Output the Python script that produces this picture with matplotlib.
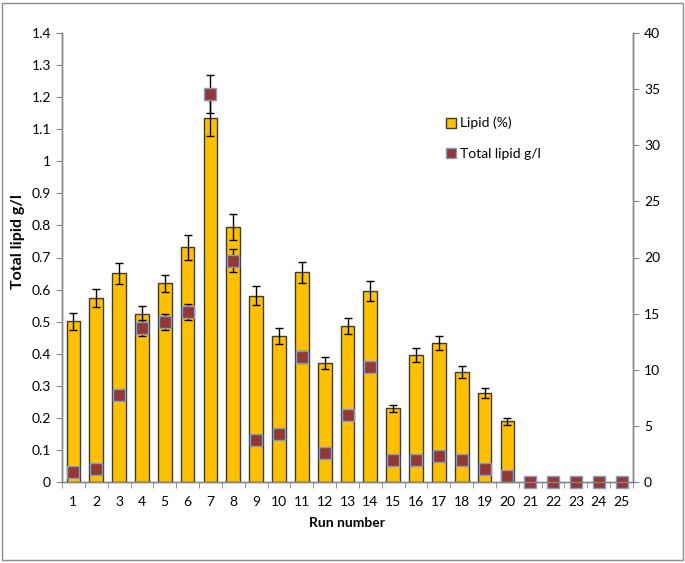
import matplotlib
matplotlib.use("Agg")
import matplotlib.pyplot as plt
from matplotlib.lines import Line2D
from matplotlib.patches import Rectangle
from matplotlib.ticker import FuncFormatter
import numpy as np

runs = list(range(1, 26))
lipid_pct = [14.3, 16.4, 18.6, 15.0, 17.7, 20.9, 32.4, 22.7, 16.6, 13.0,
             18.7, 10.6, 13.9, 17.0, 6.55, 11.35, 12.4, 9.8, 7.9, 5.4,
             0, 0, 0, 0, 0]
lipid_err = [0.74, 0.8, 0.94, 0.71, 0.77, 1.08, 1.6, 1.14, 0.83, 0.69,
             0.94, 0.57, 0.68, 0.87, 0.33, 0.63, 0.63, 0.5, 0.45, 0.3,
             0, 0, 0, 0, 0]
total_lipid = [0.03, 0.04, 0.27, 0.48, 0.50, 0.53, 1.21, 0.69, 0.13, 0.15,
               0.39, 0.09, 0.21, 0.36, 0.07, 0.07, 0.08, 0.07, 0.04, 0.02,
               0, 0, 0, 0, 0]
total_err = [0, 0, 0, 0.024, 0.025, 0.026, 0.06, 0.035, 0, 0,
             0.019, 0, 0, 0.01, 0, 0, 0, 0, 0, 0,
             0, 0, 0, 0, 0]

FONT = "Lato"
plt.rcParams['font.family'] = [FONT, 'DejaVu Sans']
W, H = 685, 563
fig = plt.figure(figsize=(W / 100, H / 100), dpi=100)
left, right, top, bottom = 62, 633, 33, 482
ax = fig.add_axes([left / W, 1 - bottom / H, (right - left) / W, (bottom - top) / H])
ax2 = ax.twinx()
ax.set_zorder(ax2.get_zorder() + 1)
ax.patch.set_visible(False)

x = np.array(runs)
ax2.bar(x, lipid_pct, width=0.6, color='#FFC000', edgecolor='#3a3a3a', linewidth=1.0,
        yerr=lipid_err, error_kw=dict(ecolor='black', capsize=2.8, elinewidth=1.0, capthick=1.0))
ax.errorbar(x, total_lipid, yerr=total_err, fmt='s', mfc='#953735', mec='#7F9FC8',
            ms=8, mew=1.0, ecolor='black', capsize=2.8, elinewidth=1.0, capthick=1.0,
            clip_on=False)

ax.set_xlim(0.5, 25.5)
ax.set_ylim(0, 1.4)
ax2.set_ylim(0, 40)
ax.set_yticks(np.arange(0, 1.41, 0.1))
ax.yaxis.set_major_formatter(FuncFormatter(lambda v, p: f"{round(v, 1):g}"))
ax2.set_yticks(range(0, 41, 5))

ax.set_xticks(x)
ax.set_xticklabels([str(r) for r in runs])
ax.set_xticks(np.arange(0.5, 25.6, 1), minor=True)
ax.tick_params(axis='x', which='major', length=0, pad=10, labelsize=10)
ax.tick_params(axis='x', which='minor', length=4, color='#868686', direction='out')
ax.tick_params(axis='y', length=4, color='#868686', labelsize=10, pad=4)
ax2.tick_params(axis='y', length=4, color='#868686', labelsize=10, pad=4)

for a in (ax, ax2):
    a.spines['top'].set_visible(False)
    for s in ('left', 'right', 'bottom'):
        a.spines[s].set_color('#868686')
        a.spines[s].set_linewidth(1.0)

fig.text(18 / W, 1 - 242 / H, "Total lipid g/l", rotation=90, ha='center', va='center',
         fontsize=11.5, fontweight='bold')
fig.text(347 / W, 1 - 523 / H, "Run number", ha='center', va='center',
         fontsize=10, fontweight='bold')

handles = [
    Line2D([], [], marker='s', linestyle='none', mfc='#FFC000', mec='#3a3a3a', ms=7, mew=1.0),
    Line2D([], [], marker='s', linestyle='none', mfc='#953735', mec='#7F9FC8', ms=7, mew=1.0),
]
fig.legend(handles, ["Lipid (%)", "Total lipid g/l"], loc='upper left',
           bbox_to_anchor=(438 / W, 1 - 110 / H), frameon=False, fontsize=10,
           handlelength=0.8, handletextpad=0.3, labelspacing=1.3, borderpad=0)

fig.patches.append(Rectangle((2 / W, 3 / H), (W - 4) / W, (H - 6) / H, transform=fig.transFigure,
                             fill=False, edgecolor='#8c8c8c', linewidth=1.0))

fig.savefig("out.png", dpi=100)
